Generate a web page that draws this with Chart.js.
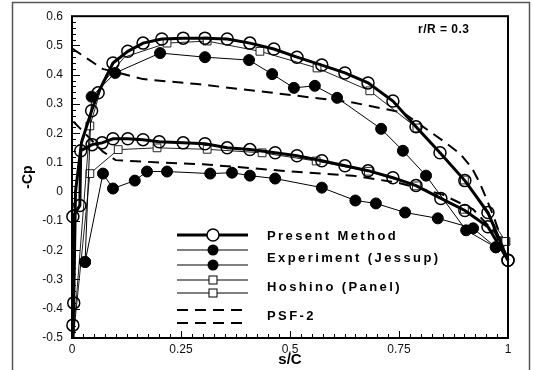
<!DOCTYPE html>
<html>
<head>
<meta charset="utf-8">
<script src="https://cdn.jsdelivr.net/npm/chart.js@4/dist/chart.umd.min.js"></script>
<style>
  html, body { margin: 0; padding: 0; background: #fff; }
  #cpChart { display: block; }
</style>
</head>
<body>
<canvas id="cpChart" width="533" height="370"></canvas>
<script>
// -Cp distribution along s/C, r/R = 0.3
// Present Method (mark = 0 : line only, no circle)
const pmUpperX = [0, 0.002, 0.004, 0.008, 0.022, 0.045, 0.06, 0.094, 0.128, 0.163, 0.206, 0.255, 0.305, 0.356, 0.408, 0.463, 0.516, 0.573, 0.626, 0.679, 0.736, 0.789, 0.844, 0.901, 0.954, 1.0];
const pmUpperY = [-0.55, -0.456, -0.38, 0.0, 0.17, 0.277, 0.338, 0.44, 0.48, 0.508, 0.522, 0.525, 0.525, 0.522, 0.508, 0.488, 0.46, 0.433, 0.406, 0.372, 0.31, 0.222, 0.133, 0.038, -0.071, -0.234];
const pmUpperMark = [0, 1, 1, 0, 0, 1, 1, 1, 1, 1, 1, 1, 1, 1, 1, 1, 1, 1, 1, 1, 1, 1, 1, 1, 1, 1];
const pmLowerX = [0, 0.002, 0.018, 0.02, 0.046, 0.069, 0.094, 0.128, 0.163, 0.2, 0.255, 0.305, 0.356, 0.408, 0.466, 0.516, 0.573, 0.626, 0.679, 0.736, 0.789, 0.846, 0.901, 0.954, 1.0];
const pmLowerY = [-0.55, -0.085, -0.047, 0.14, 0.161, 0.167, 0.181, 0.181, 0.178, 0.171, 0.167, 0.164, 0.15, 0.144, 0.133, 0.123, 0.106, 0.089, 0.072, 0.048, 0.021, -0.023, -0.064, -0.12, -0.234];
const pmLowerMark = [0, 1, 1, 1, 1, 1, 1, 1, 1, 1, 1, 1, 1, 1, 1, 1, 1, 1, 1, 1, 1, 1, 1, 1, 1];

// Experiment (Jessup)
const expUpperX = [0.03, 0.045, 0.099, 0.202, 0.305, 0.406, 0.459, 0.509, 0.557, 0.608, 0.709, 0.759, 0.812, 0.904, 0.972];
const expUpperY = [-0.24, 0.325, 0.406, 0.474, 0.46, 0.45, 0.402, 0.355, 0.362, 0.321, 0.215, 0.14, 0.055, -0.132, -0.19];
const expLowerX = [0.03, 0.071, 0.094, 0.144, 0.172, 0.218, 0.317, 0.367, 0.408, 0.466, 0.573, 0.65, 0.697, 0.764, 0.839, 0.92, 0.972];
const expLowerY = [-0.24, 0.062, 0.011, 0.038, 0.069, 0.069, 0.062, 0.065, 0.055, 0.045, 0.014, -0.03, -0.04, -0.071, -0.091, -0.125, -0.19];

// Hoshino (Panel)
const hoUpperX = [0.003, 0.041, 0.07, 0.12, 0.218, 0.31, 0.431, 0.562, 0.683, 0.791, 0.9, 0.995];
const hoUpperY = [-0.5, 0.225, 0.37, 0.46, 0.508, 0.515, 0.48, 0.423, 0.345, 0.218, 0.04, -0.17];
const hoUpperMark = [0, 1, 0, 0, 1, 1, 1, 1, 1, 1, 1, 1];
const hoLowerX = [0.003, 0.041, 0.106, 0.195, 0.31, 0.436, 0.56, 0.68, 0.79, 0.9, 0.995];
const hoLowerY = [-0.5, 0.062, 0.144, 0.15, 0.145, 0.133, 0.105, 0.07, 0.02, -0.06, -0.17];
const hoLowerMark = [0, 1, 1, 1, 1, 1, 1, 1, 1, 1, 1];

// PSF-2
const psfUpperX = [0, 0.07, 0.163, 0.287, 0.46, 0.644, 0.76, 0.851, 0.89, 0.917, 0.936, 0.966, 0.986, 1.0];
const psfUpperY = [0.49, 0.42, 0.385, 0.368, 0.338, 0.305, 0.27, 0.174, 0.13, 0.082, 0.028, -0.08, -0.166, -0.234];
const psfLowerX = [0.003, 0.071, 0.1, 0.2, 0.3, 0.48, 0.644, 0.75, 0.85, 0.92, 0.97, 1.0];
const psfLowerY = [0.24, 0.137, 0.108, 0.1, 0.094, 0.072, 0.055, 0.03, -0.01, -0.06, -0.14, -0.234];

const yTicks = [-0.5, -0.4, -0.3, -0.2, -0.1, 0, 0.1, 0.2, 0.3, 0.4, 0.5, 0.6];
const xTicks = [0, 0.25, 0.5, 0.75, 1];

const FONT = '"Liberation Sans", Arial, sans-serif';

function pts(xs, ys) {
    return xs.map((x, i) => ({ x: x, y: ys[i] }));
}

const clipBox = { left: 8, right: 8, top: 8, bottom: 0 };

// 枠・目盛り・凡例を描くプラグイン
const decor = {
    id: 'decor',
    beforeDraw(chart) {
        const c = chart.ctx;
        c.save();
        c.fillStyle = '#fff';
        c.fillRect(0, 0, chart.width, chart.height);
        // outer frame
        c.strokeStyle = '#555';
        c.lineWidth = 1.5;
        c.strokeRect(12.5, 2.5, 517, 380);
        c.restore();
    },
    afterDraw(chart) {
        const c = chart.ctx;
        const a = chart.chartArea;
        const xs = chart.scales.x, ys = chart.scales.y;
        c.save();
        c.strokeStyle = '#000';

        // inward ticks
        c.lineWidth = 1;
        c.beginPath();
        for (let k = 0; k <= 55; k++) {
            const v = -0.5 + k * 0.02;
            const py = Math.round(ys.getPixelForValue(v)) + 0.5;
            const len = (k % 5 === 0) ? 8 : 4;
            c.moveTo(a.left, py);
            c.lineTo(a.left + len, py);
        }
        for (let k = 0; k <= 40; k++) {
            const v = k * 0.025;
            const px = Math.round(xs.getPixelForValue(v)) + 0.5;
            const len = (k % 10 === 0) ? 7 : 4;
            c.moveTo(px, a.bottom);
            c.lineTo(px, a.bottom - len);
        }
        c.stroke();

        // plot frame
        c.lineWidth = 2;
        c.strokeRect(a.left, a.top, a.right - a.left, a.bottom - a.top);

        // r/R label
        c.fillStyle = '#000';
        c.font = 'bold 12px ' + FONT;
        c.textBaseline = 'middle';
        c.letterSpacing = '0.5px';
        c.fillText('r/R = 0.3', 418, 30);

        // legend
        const lx0 = 177, lx1 = 248, mx = 213;
        function seg(y, width, dash) {
            c.lineWidth = width;
            c.setLineDash(dash || []);
            c.beginPath();
            c.moveTo(lx0, y);
            c.lineTo(lx1, y);
            c.stroke();
            c.setLineDash([]);
        }
        seg(235, 3);
        c.lineWidth = 1.5;
        c.fillStyle = '#fff';
        c.beginPath(); c.arc(mx, 235, 6, 0, Math.PI * 2); c.fill(); c.stroke();
        c.fillStyle = '#000';
        [250, 265].forEach(y => {
            seg(y, 1);
            c.beginPath(); c.arc(mx, y, 5.5, 0, Math.PI * 2); c.fill();
        });
        [280, 293].forEach(y => {
            seg(y, 1);
            c.fillStyle = '#fff';
            c.lineWidth = 1;
            c.fillRect(mx - 4, y - 4, 8, 8);
            c.strokeRect(mx - 4, y - 4, 8, 8);
        });
        [310, 323].forEach(y => seg(y, 2, [11, 7]));

        c.fillStyle = '#000';
        c.font = 'bold 13px ' + FONT;
        c.letterSpacing = '2.4px';
        c.fillText('Present Method', 267, 236);
        c.fillText('Experiment (Jessup)', 267, 258);
        c.fillText('Hoshino (Panel)', 267, 287);
        c.fillText('PSF-2', 267, 316);
        c.restore();
    }
};

const ctx = document.getElementById('cpChart').getContext('2d');
const chart = new Chart(ctx, {
    type: 'scatter',
    data: {
        datasets: [
            {
                label: 'Present Method',
                data: pts(pmUpperX, pmUpperY),
                showLine: true, borderColor: '#000', borderWidth: 3,
                pointRadius: pmUpperMark.map(m => m ? 6 : 0),
                pointBorderWidth: 1.5, pointBackgroundColor: 'rgba(0,0,0,0)', pointBorderColor: '#000',
                clip: clipBox
            },
            {
                label: 'Present Method',
                data: pts(pmLowerX, pmLowerY),
                showLine: true, borderColor: '#000', borderWidth: 3,
                pointRadius: pmLowerMark.map(m => m ? 6 : 0),
                pointBorderWidth: 1.5, pointBackgroundColor: 'rgba(0,0,0,0)', pointBorderColor: '#000',
                clip: clipBox
            },
            {
                label: 'Experiment (Jessup)',
                data: pts(expUpperX, expUpperY),
                showLine: true, borderColor: '#000', borderWidth: 1,
                pointRadius: 5.5, pointBackgroundColor: '#000', pointBorderColor: '#000',
                clip: clipBox
            },
            {
                label: 'Experiment (Jessup)',
                data: pts(expLowerX, expLowerY),
                showLine: true, borderColor: '#000', borderWidth: 1,
                pointRadius: 5.5, pointBackgroundColor: '#000', pointBorderColor: '#000',
                clip: clipBox
            },
            {
                label: 'Hoshino (Panel)',
                data: pts(hoUpperX, hoUpperY),
                showLine: true, borderColor: '#222', borderWidth: 1,
                pointStyle: 'rect', pointRadius: hoUpperMark.map(m => m ? 5.5 : 0),
                pointBorderWidth: 1, pointBackgroundColor: '#fff', pointBorderColor: '#222',
                clip: clipBox
            },
            {
                label: 'Hoshino (Panel)',
                data: pts(hoLowerX, hoLowerY),
                showLine: true, borderColor: '#222', borderWidth: 1,
                pointStyle: 'rect', pointRadius: hoLowerMark.map(m => m ? 5.5 : 0),
                pointBorderWidth: 1, pointBackgroundColor: '#fff', pointBorderColor: '#222',
                clip: clipBox
            },
            {
                label: 'PSF-2',
                data: pts(psfUpperX, psfUpperY),
                showLine: true, borderColor: '#000', borderWidth: 2, borderDash: [11, 7],
                pointRadius: 0, clip: clipBox
            },
            {
                label: 'PSF-2',
                data: pts(psfLowerX, psfLowerY),
                showLine: true, borderColor: '#000', borderWidth: 2, borderDash: [11, 7],
                pointRadius: 0, clip: clipBox
            }
        ]
    },
    options: {
        responsive: false,
        animation: false,
        layout: { padding: { left: 0, right: 25, top: 15, bottom: 0 } },
        plugins: { legend: { display: false }, tooltip: { enabled: false } },
        scales: {
            x: {
                type: 'linear', min: 0, max: 1,
                afterFit: s => { s.height = 32; },
                afterBuildTicks: s => { s.ticks = xTicks.map(v => ({ value: v })); },
                grid: { display: false, drawTicks: false },
                border: { display: false },
                ticks: {
                    padding: 4, color: '#111',
                    font: { family: FONT, size: 12 },
                    callback: v => String(v)
                },
                title: {
                    display: true, text: 's/C', color: '#000',
                    font: { family: FONT, size: 15, weight: 'bold' },
                    padding: { top: 0, bottom: 1 }
                }
            },
            y: {
                type: 'linear', min: -0.5, max: 0.6,
                afterFit: s => { s.width = 72; },
                afterBuildTicks: s => { s.ticks = yTicks.map(v => ({ value: v })); },
                grid: { display: false, drawTicks: false },
                border: { display: false },
                ticks: {
                    padding: 9, color: '#111',
                    font: { family: FONT, size: 12 },
                    callback: v => String(Math.round(v * 10) / 10)
                },
                title: {
                    display: true, text: '-Cp', color: '#000',
                    font: { family: FONT, size: 14, weight: 'bold' },
                    padding: { top: 20, bottom: 0 }
                }
            }
        }
    },
    plugins: [decor]
});
</script>
</body>
</html>
